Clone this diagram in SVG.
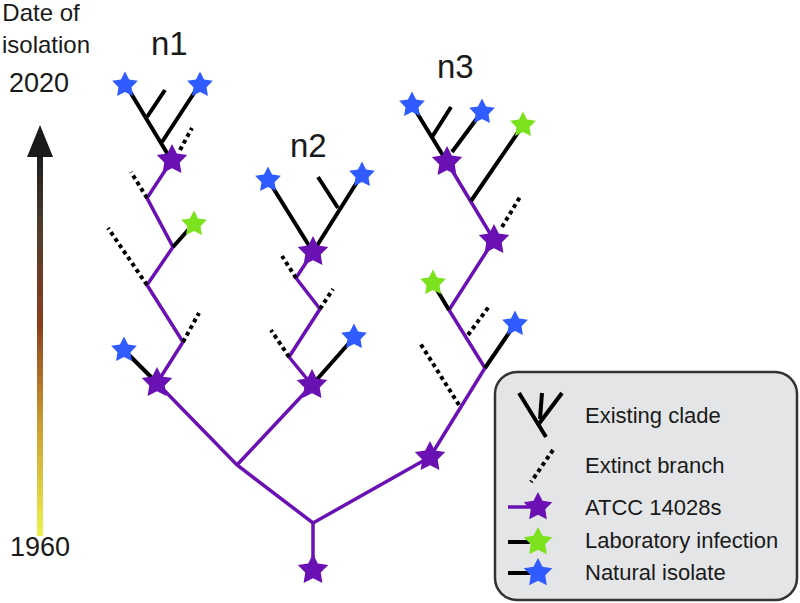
<svg xmlns="http://www.w3.org/2000/svg" xmlns:xlink="http://www.w3.org/1999/xlink" width="800" height="603" viewBox="0 0 800 603">
<style>
text{font-family:"Liberation Sans",Arial,sans-serif;fill:#1a1a1a}
.lbl{font-size:24px}
.yr{font-size:27px}
.n{font-size:33px}
.lg{font-size:22px}
.p{fill:none;stroke:#6a11b4;stroke-width:3.5;stroke-linejoin:miter}
.b{fill:none;stroke:#000;stroke-width:4}
.d{fill:none;stroke:#000;stroke-width:4;stroke-dasharray:4 3.5}
.sp{fill:#6a11b4}
.sb{fill:#2f5bff}
.sg{fill:#7de21e}
</style>
<defs>
<path id="star" d="M0,-10 L3,-4.1 L9.51,-3.09 L4.85,1.58 L5.88,8.09 L0,5.1 L-5.88,8.09 L-4.85,1.58 L-9.51,-3.09 L-3,-4.1Z"/>
<linearGradient id="time" gradientUnits="userSpaceOnUse" x1="0" y1="536" x2="0" y2="150">
<stop offset="0" stop-color="#ecf24e"/>
<stop offset="0.3" stop-color="#c99a30"/>
<stop offset="0.55" stop-color="#8c3d1c"/>
<stop offset="0.8" stop-color="#4d3c2e"/>
<stop offset="1" stop-color="#1a1a1a"/>
</linearGradient>
</defs>
<rect width="800" height="603" fill="#fff"/>

<g id="time-axis">
<text class="lbl" x="41" y="21" text-anchor="middle">Date of</text>
<text class="lbl" x="46" y="53" text-anchor="middle">isolation</text>
<text class="yr" x="39" y="92" text-anchor="middle">2020</text>
<rect x="37" y="150" width="6" height="386" fill="url(#time)"/>
<polygon points="40,125 53,157 27,157" fill="#1a1a1a"/>
<text class="yr" x="40" y="556" text-anchor="middle">1960</text>
</g>

<g id="labels">
<text class="n" x="151" y="55">n1</text>
<text class="n" x="290" y="157">n2</text>
<text class="n" x="437" y="78">n3</text>
</g>

<g id="connectors">
<!-- backbone -->
<polyline class="p" points="157,383 237,465 313,523 430,457"/>
<line class="p" x1="237" y1="465" x2="312" y2="385"/>
<line class="p" x1="313" y1="523" x2="313" y2="568"/>
<!-- n1 lineage -->
<polyline class="p" points="157,383 183,342 147,285 173,247 147,198 172,160"/>
<line class="d" x1="147" y1="198" x2="131" y2="172"/>
<line class="d" x1="147" y1="285" x2="108" y2="228"/>
<line class="d" x1="183" y1="342" x2="199" y2="313"/>
<line class="b" x1="173" y1="247" x2="189" y2="229"/>
<line class="b" x1="157" y1="383" x2="127" y2="353"/>
<line class="b" x1="170" y1="158" x2="129" y2="90"/>
<line class="b" x1="147" y1="117" x2="165" y2="90"/>
<line class="b" x1="162" y1="142" x2="196" y2="90"/>
<line class="d" x1="180" y1="150" x2="192" y2="128"/>
<!-- n2 lineage -->
<polyline class="p" points="312,385 289,357 320,309 296,278 313,252"/>
<line class="d" x1="289" y1="357" x2="271" y2="330"/>
<line class="d" x1="320" y1="309" x2="333" y2="289"/>
<line class="d" x1="296" y1="278" x2="282" y2="256"/>
<line class="b" x1="312" y1="385" x2="350" y2="342"/>
<line class="b" x1="313" y1="252" x2="270" y2="183"/>
<line class="b" x1="313" y1="252" x2="359" y2="179"/>
<line class="b" x1="338" y1="208" x2="318" y2="177"/>
<!-- n3 lineage -->
<polyline class="p" points="430,457 485,368 449,310 494,240 447,162"/>
<line class="d" x1="459" y1="405" x2="420" y2="343"/>
<line class="d" x1="468" y1="335" x2="490" y2="305"/>
<line class="b" x1="485" y1="368" x2="513" y2="327"/>
<line class="b" x1="449" y1="310" x2="434" y2="285"/>
<line class="d" x1="502" y1="227" x2="520" y2="197"/>
<line class="b" x1="471" y1="201" x2="521" y2="128"/>
<line class="b" x1="447" y1="162" x2="414" y2="108"/>
<line class="b" x1="432" y1="137" x2="451" y2="107"/>
<line class="b" x1="452" y1="152" x2="481" y2="113"/>
</g>

<g id="nodes">
<use id="s-root" xlink:href="#star" class="sp" transform="translate(313,570) scale(1.6)"/>
<use id="s-n1a" xlink:href="#star" class="sp" transform="translate(157,383) scale(1.6)"/>
<use id="s-n1b" xlink:href="#star" class="sp" transform="translate(172,160) scale(1.6)"/>
<use id="s-n1-lab" xlink:href="#star" class="sg" transform="translate(194,224) scale(1.35)"/>
<use id="s-n1-nat1" xlink:href="#star" class="sb" transform="translate(124,350) scale(1.35)"/>
<use id="s-n1-nat2" xlink:href="#star" class="sb" transform="translate(125,85) scale(1.35)"/>
<use id="s-n1-nat3" xlink:href="#star" class="sb" transform="translate(200,85) scale(1.35)"/>
<use id="s-n2a" xlink:href="#star" class="sp" transform="translate(312,385) scale(1.6)"/>
<use id="s-n2b" xlink:href="#star" class="sp" transform="translate(313,252) scale(1.6)"/>
<use id="s-n2-nat1" xlink:href="#star" class="sb" transform="translate(354,337) scale(1.35)"/>
<use id="s-n2-nat2" xlink:href="#star" class="sb" transform="translate(268,180) scale(1.35)"/>
<use id="s-n2-nat3" xlink:href="#star" class="sb" transform="translate(362,175) scale(1.35)"/>
<use id="s-n3a" xlink:href="#star" class="sp" transform="translate(430,457) scale(1.6)"/>
<use id="s-n3b" xlink:href="#star" class="sp" transform="translate(494,240) scale(1.6)"/>
<use id="s-n3c" xlink:href="#star" class="sp" transform="translate(447,162) scale(1.6)"/>
<use id="s-n3-nat1" xlink:href="#star" class="sb" transform="translate(515,324) scale(1.35)"/>
<use id="s-n3-lab1" xlink:href="#star" class="sg" transform="translate(433,283) scale(1.35)"/>
<use id="s-n3-lab2" xlink:href="#star" class="sg" transform="translate(523,125) scale(1.35)"/>
<use id="s-n3-nat2" xlink:href="#star" class="sb" transform="translate(412,105) scale(1.35)"/>
<use id="s-n3-nat3" xlink:href="#star" class="sb" transform="translate(482,112) scale(1.35)"/>
</g>

<g id="legend">
<rect x="495" y="372" width="302" height="228" rx="22" fill="#e4e5e6" stroke="#333" stroke-width="2.5"/>
<line class="b" x1="519" y1="393" x2="546" y2="437" stroke-width="3"/>
<line class="b" x1="562" y1="393" x2="538" y2="425" stroke-width="3"/>
<line class="b" x1="542" y1="393" x2="540" y2="419" stroke-width="3"/>
<line class="d" x1="553" y1="450" x2="531" y2="482" stroke-width="3.5"/>
<line class="p" x1="508" y1="507" x2="530" y2="507"/>
<use xlink:href="#star" class="sp" transform="translate(538,507) scale(1.5)"/>
<line class="b" x1="508" y1="542" x2="530" y2="542"/>
<use xlink:href="#star" class="sg" transform="translate(538,542) scale(1.5)"/>
<line class="b" x1="508" y1="573" x2="530" y2="573"/>
<use xlink:href="#star" class="sb" transform="translate(538,573) scale(1.5)"/>
<text class="lg" x="585" y="423">Existing clade</text>
<text class="lg" x="585" y="473">Extinct branch</text>
<text class="lg" x="585" y="515">ATCC 14028s</text>
<text class="lg" x="585" y="548">Laboratory infection</text>
<text class="lg" x="585" y="580">Natural isolate</text>
</g>
</svg>
